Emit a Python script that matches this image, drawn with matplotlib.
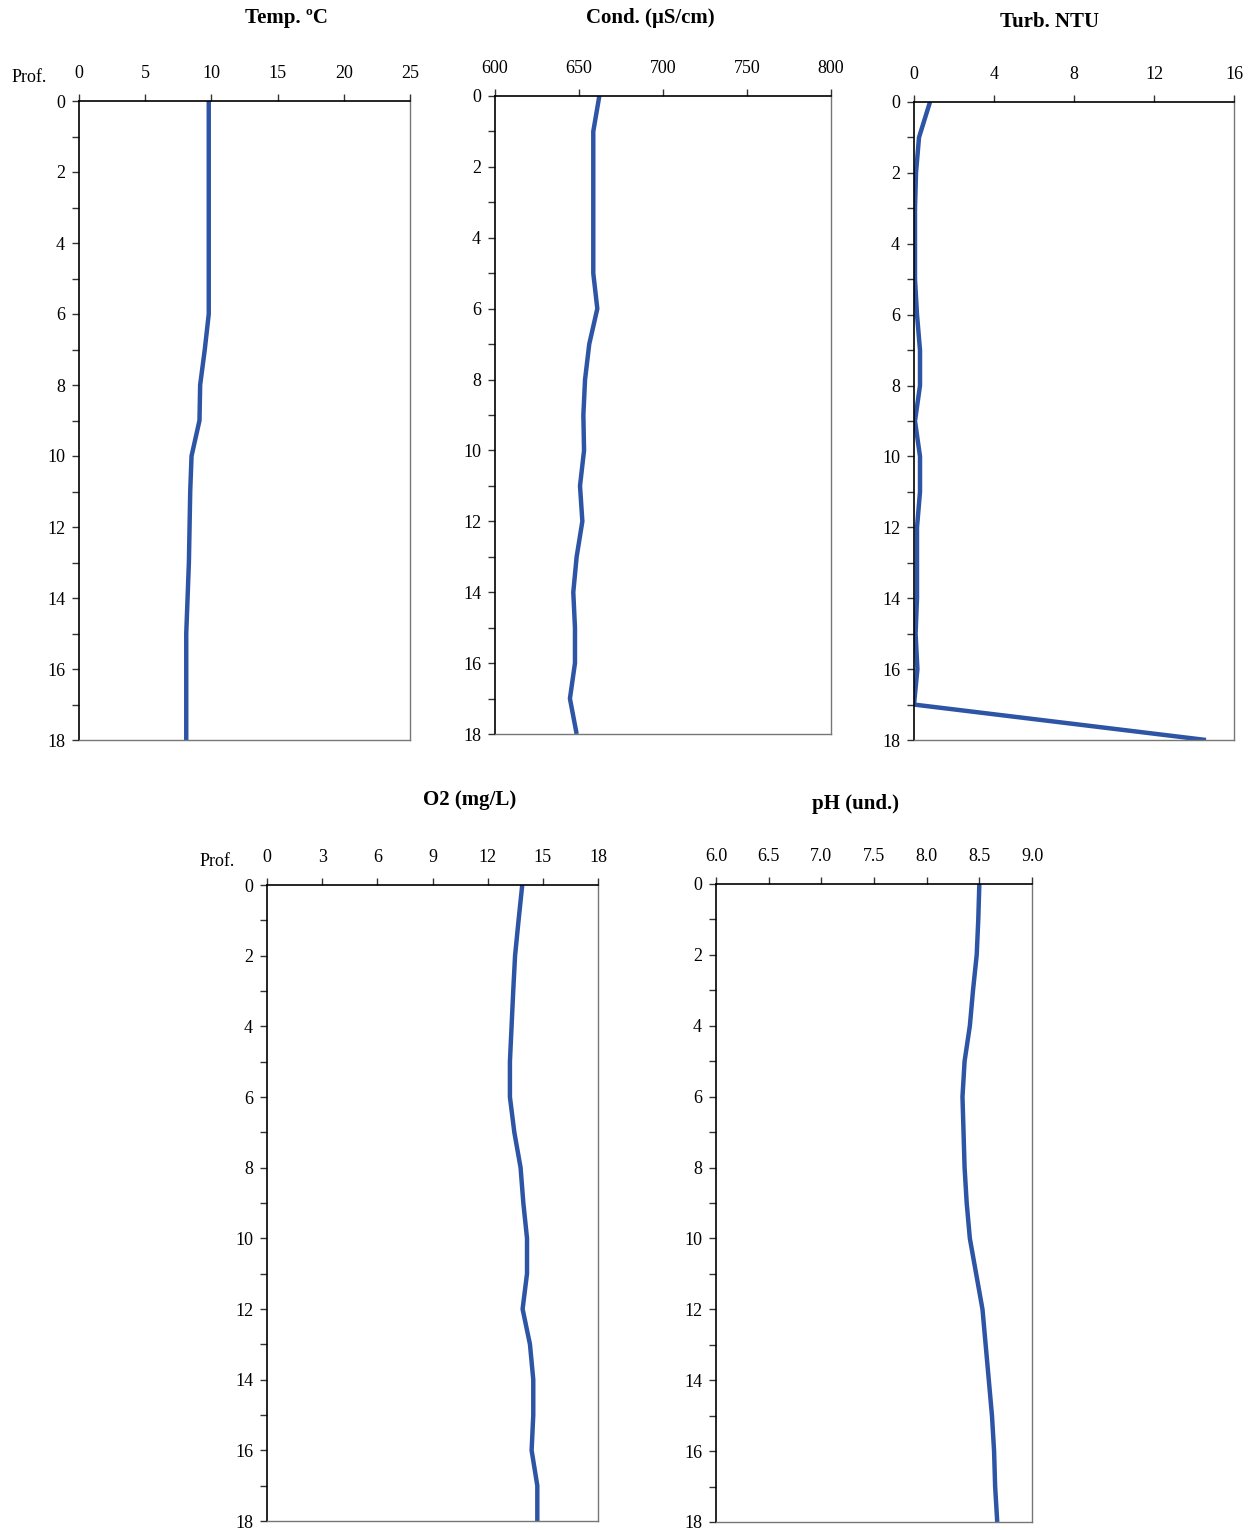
import matplotlib.pyplot as plt
from matplotlib.ticker import MultipleLocator

plt.rcParams['font.family'] = ['Liberation Serif', 'DejaVu Serif']

# depth (m)
depth = list(range(0, 19))

# measured profiles
temp = [9.8, 9.8, 9.8, 9.8, 9.8, 9.8, 9.8, 9.5, 9.15, 9.1, 8.5, 8.4, 8.35,
        8.3, 8.2, 8.1, 8.1, 8.1, 8.1]
cond = [662.1, 658.5, 658.5, 658.5, 658.5, 658.5, 660.9, 656.1, 653.6, 652.6,
        653.0, 650.6, 652.0, 648.6, 646.6, 647.6, 647.6, 644.6, 648.6]
turb = [0.8, 0.25, 0.1, 0.05, 0.05, 0.05, 0.15, 0.3, 0.3, 0.05, 0.3, 0.3,
        0.15, 0.15, 0.15, 0.08, 0.17, 0.0, 14.6]
o2 = [13.88, 13.68, 13.49, 13.39, 13.30, 13.21, 13.21, 13.45, 13.79, 13.94,
      14.14, 14.14, 13.90, 14.30, 14.48, 14.48, 14.39, 14.70, 14.70]
ph = [8.50, 8.49, 8.475, 8.44, 8.41, 8.36, 8.34, 8.35, 8.36, 8.38, 8.41,
      8.47, 8.53, 8.56, 8.59, 8.62, 8.64, 8.65, 8.67]

W, H = 1254, 1530
fig = plt.figure(figsize=(W / 100, H / 100), dpi=100)

line_color = '#2E55A5'


def make_panel(px_box, values, xlim, xstep, xfmt, title, title_pos, prof_pos=None):
    x0, y0, x1, y1 = px_box
    ax = fig.add_axes([x0 / W, 1 - y1 / H, (x1 - x0) / W, (y1 - y0) / H])
    ax.plot(values, depth, color=line_color, lw=3.2, solid_capstyle='butt')
    ax.set_xlim(*xlim)
    ax.set_ylim(18, 0)
    ax.xaxis.tick_top()
    ax.xaxis.set_major_locator(MultipleLocator(xstep))
    ax.xaxis.set_major_formatter(xfmt)
    ax.yaxis.set_major_locator(MultipleLocator(2))
    ax.yaxis.set_minor_locator(MultipleLocator(1))
    ax.tick_params(axis='x', which='both', direction='out', length=5, width=1,
                   labelsize=13, pad=9, color='#333333')
    ax.tick_params(axis='y', which='both', direction='out', length=5, width=1,
                   labelsize=13, pad=5, color='#333333')
    for side in ['left', 'top']:
        ax.spines[side].set_color('black')
        ax.spines[side].set_linewidth(1.2)
    for side in ['right', 'bottom']:
        ax.spines[side].set_color('#777777')
        ax.spines[side].set_linewidth(1.0)
    fig.text(title_pos[0] / W, 1 - title_pos[1] / H, title, ha='center', va='center',
             fontsize=15, fontweight='bold')
    if prof_pos is not None:
        fig.text(prof_pos[0] / W, 1 - prof_pos[1] / H, 'Prof.', ha='center', va='center',
                 fontsize=13)
    return ax


make_panel((79, 101, 410, 740), temp, (0, 25), 5, '{x:.0f}', 'Temp. ºC', (286, 18), (29, 78))
make_panel((495, 96, 831, 734), cond, (600, 800), 50, '{x:.0f}', 'Cond. (µS/cm)', (650, 18))
make_panel((914, 102, 1234, 740), turb, (0, 16), 4, '{x:.0f}', 'Turb. NTU', (1050, 22))
make_panel((267, 885, 598, 1521), o2, (0, 18), 3, '{x:.0f}', 'O2 (mg/L)', (470, 800), (217, 861))
make_panel((716, 884, 1032, 1522), ph, (6, 9), 0.5, '{x:.1f}', 'pH (und.)', (856, 804))

fig.savefig('out.png', dpi=100)
